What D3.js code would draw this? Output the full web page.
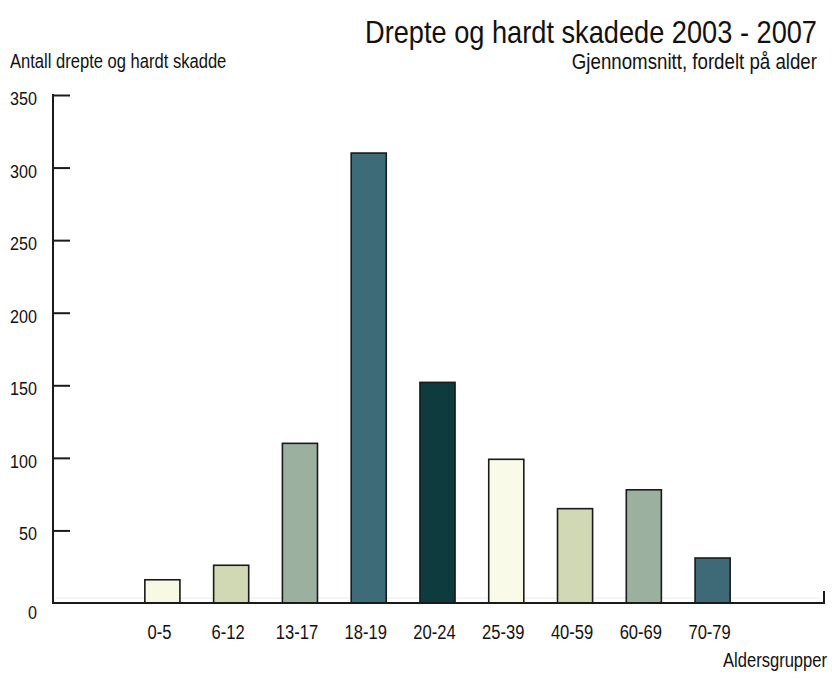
<!DOCTYPE html>
<html>
<head>
<meta charset="utf-8">
<script src="https://cdn.jsdelivr.net/npm/d3@7"></script>
<style>
  body { margin: 0; background: #fff; }
  text { font-family: "Liberation Sans", Arial, sans-serif; fill: #111; }
</style>
</head>
<body>
<div class="vis"></div>
<script>
(function() {
  'use strict';

  var categories = ['0-5', '6-12', '13-17', '18-19', '20-24', '25-39', '40-59', '60-69', '70-79'];
  var values = [16, 26, 110, 310, 152, 99, 65, 78, 31];
  var colors = ['#f7f9e5', '#d0d9b3', '#9cb0a0', '#3d6b77', '#0e3b3d', '#f9fbe8', '#d0d9b3', '#9cb0a0', '#3d6a76'];
  var yTicks = [0, 50, 100, 150, 200, 250, 300, 350];

  var width = 832,
    height = 678,
    axisX = 53,
    axisEnd = 824,
    narrow = 0.85; // the original font is a condensed Arial

  var svg = d3.select('.vis').append('svg')
    .attr('width', width)
    .attr('height', height);

  var x = d3.scaleBand()
    .domain(categories)
    .range([128, 747])
    .paddingInner(0.49)
    .paddingOuter(0.245);

  var y = d3.scaleLinear()
    .domain([0, 350])
    .range([603, 95]);

  function label(px, py, anchor, size, str) {
    return svg.append('text')
      .attr('transform', 'translate(' + px + ',' + py + ') scale(' + narrow + ',1)')
      .attr('text-anchor', anchor)
      .style('font-size', size + 'px')
      .text(str);
  }

  // titles
  label(817, 43, 'end', 32, 'Drepte og hardt skadede 2003 - 2007');
  label(817, 69, 'end', 22, 'Gjennomsnitt, fordelt på alder');
  label(10, 68, 'start', 19.5, 'Antall drepte og hardt skadde');
  label(827, 667, 'end', 19.5, 'Aldersgrupper');

  // faint shadow line above baseline
  svg.append('line')
    .attr('x1', axisX + 2).attr('x2', axisEnd - 4)
    .attr('y1', y(0) - 5).attr('y2', y(0) - 5)
    .attr('stroke', '#ececec')
    .attr('stroke-width', 1);

  // bars
  svg.selectAll('.bar')
    .data(values)
    .enter()
    .append('rect')
      .attr('class', 'bar')
      .attr('x', function(d, i) { return x(categories[i]); })
      .attr('y', function(d) { return y(d); })
      .attr('width', x.bandwidth())
      .attr('height', function(d) { return y(0) - y(d); })
      .attr('fill', function(d, i) { return colors[i]; })
      .attr('stroke', '#1a1a1a')
      .attr('stroke-width', 1.6);

  // y axis
  var yAxis = d3.axisRight(y)
    .tickValues(yTicks.filter(function(v) { return v > 0; }))
    .tickSize(17)
    .tickFormat('');

  var gy = svg.append('g')
    .attr('transform', 'translate(' + axisX + ',0)')
    .call(yAxis);
  gy.select('.domain').remove();
  gy.selectAll('.tick line')
    .attr('stroke', '#1a1a1a')
    .attr('stroke-width', 2);

  svg.append('line')
    .attr('x1', axisX).attr('x2', axisX)
    .attr('y1', y(350) - 1).attr('y2', y(0) + 1)
    .attr('stroke', '#1a1a1a')
    .attr('stroke-width', 2);

  yTicks.forEach(function(v) {
    label(37, y(v) + (v === 0 ? 9 : 3) + 7, 'end', 19, v);
  });

  // x axis
  svg.append('path')
    .attr('d', 'M' + axisX + ',' + y(0) + 'H' + axisEnd + 'V' + (y(0) - 12))
    .attr('fill', 'none')
    .attr('stroke', '#1a1a1a')
    .attr('stroke-width', 2);

  categories.forEach(function(c) {
    label(x(c) + x.bandwidth() / 2 - 3, 639, 'middle', 19.5, c);
  });
}());
</script>
</body>
</html>
